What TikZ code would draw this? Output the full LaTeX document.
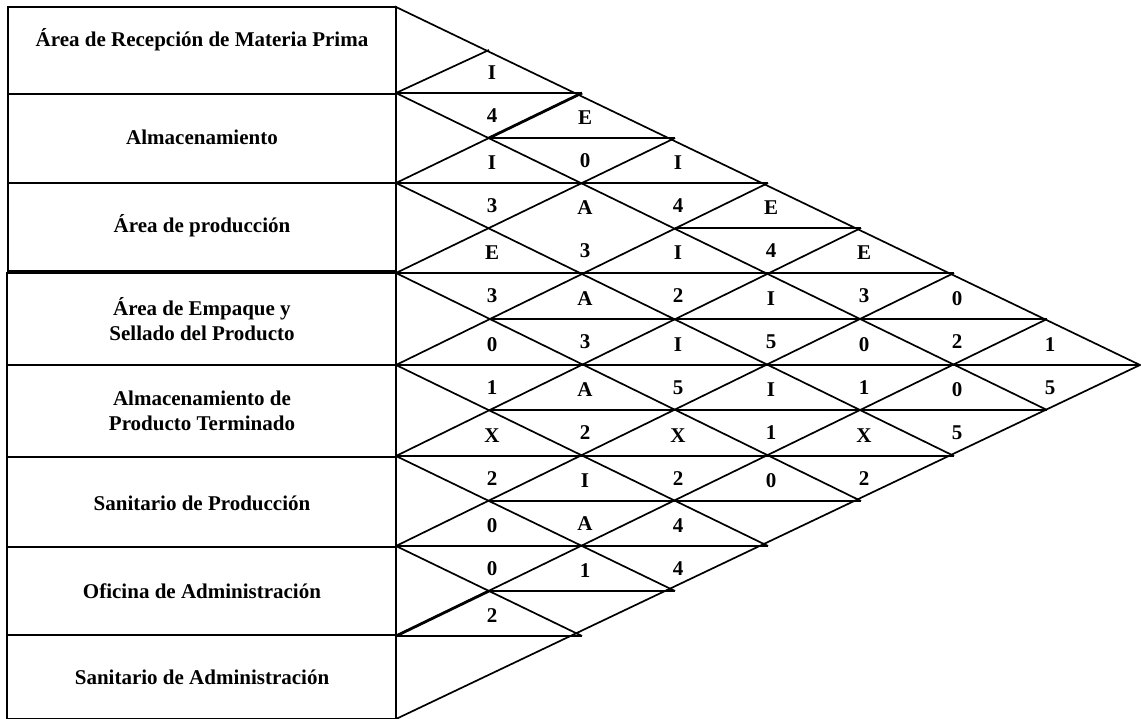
\documentclass[tikz,border=0pt]{standalone}
\usepackage{fontspec}
\setmainfont{Liberation Serif}
\begin{document}
\begin{tikzpicture}[x=1pt,y=-1pt,line width=1.8pt,
  lbl/.style={font=\fontsize{21}{25}\selectfont\bfseries,inner sep=0pt},
  boxt/.style={font=\fontsize{21}{25}\selectfont\bfseries,align=center,inner sep=0pt},
  gridline/.style={line width=1.7pt},
  thickline/.style={line width=2.8pt}]
\useasboundingbox (0,0) rectangle (1141,719);
\def\Ylist{{7,50,93,138,183,228,273,319,365,410,456,501,546,591,636,677,719}}
\foreach \u in {0,...,8}{
  \foreach \v in {0,...,16}{
    \pgfmathsetmacro\yy{\Ylist[\v]}
    \coordinate (g-\u-\v) at ({396+93*\u},\yy);
  }
}
% left boxes
\draw (8,7) rectangle (396,94);
\draw (8,94) rectangle (396,183);
\draw (8,183) rectangle (396,271);
\draw (7,273) rectangle (396,365);
\draw (7,365) rectangle (396,457);
\draw (7,457) rectangle (396,547);
\draw (7,547) rectangle (396,635);
\draw (7,635) rectangle (396,719);
\node[boxt] (b1) at (202,40) {Área de Recepción de Materia Prima};
\node[boxt] (b2) at (202,137) {Almacenamiento};
\node[boxt] (b3) at (202,226) {Área de producción};
\node[boxt] (b4) at (202,319) {Área de Empaque y\\Sellado del Producto};
\node[boxt] (b5) at (202,411) {Almacenamiento de\\Producto Terminado};
\node[boxt] (b6) at (202,503) {Sanitario de Producción};
\node[boxt] (b7) at (202,591) {Oficina de Administración};
\node[boxt] (b8) at (202,677) {Sanitario de Administración};
% envelope
\draw[gridline] (g-0-0) -- (g-8-8) -- (g-0-16) -- cycle;
% down lines
\foreach \k in {1,...,6}{
  \pgfmathtruncatemacro\vs{2*\k}
  \pgfmathtruncatemacro\ue{8-\k}
  \pgfmathtruncatemacro\ve{8+\k}
  \draw[gridline] (g-0-\vs) -- (g-\ue-\ve);
}
% up lines
\foreach \k in {1,...,7}{
  \pgfmathtruncatemacro\vs{2*\k}
  \draw[gridline] (g-0-\vs) -- (g-\k-\k);
}
% horizontal mid lines
\foreach \v/\ul/\ur in {2/0/2,3/1/3,4/0/4,5/3/5,6/0/6,7/1/7,8/0/8,9/1/7,10/0/6,11/1/5,12/0/4,13/1/3,14/0/2}{
  \draw[gridline] (g-\ul-\v) -- (g-\ur-\v);
}
\draw[thickline] (g-1-3) -- (g-2-2);
\draw[thickline] (g-0-14) -- (g-1-13);
% upper labels
\foreach \i/\j/\a in {0/1/I,0/2/E,0/3/I,0/4/E,0/5/E,0/6/0,0/7/1,
  1/2/I,1/3/A,1/4/I,1/5/I,1/6/0,1/7/0,
  2/3/E,2/4/A,2/5/I,2/6/I,2/7/X,
  3/4/0,3/5/A,3/6/X,3/7/0,
  4/5/X,4/6/I,4/7/4,
  5/6/0,5/7/1,6/7/2}{
  \pgfmathtruncatemacro\uu{\j-\i}
  \pgfmathtruncatemacro\vv{\i+\j+1}
  \node[lbl] (up-\i-\j) at ([xshift=3pt,yshift=20pt]g-\uu-\vv) {\a};
}
% lower labels
\foreach \i/\j/\b in {0/1/4,0/2/0,0/3/4,0/4/4,0/5/3,0/6/2,0/7/5,
  1/2/3,1/3/3,1/4/2,1/5/5,1/6/1,1/7/5,
  2/3/3,2/4/3,2/5/5,2/6/1,2/7/2,
  3/4/1,3/5/2,3/6/2,
  4/5/2,4/6/A,4/7/4,
  5/6/0}{
  \pgfmathtruncatemacro\uu{\j-\i}
  \pgfmathtruncatemacro\vv{\i+\j+1}
  \node[lbl] (lo-\i-\j) at ([xshift=3pt,yshift=-23pt]g-\uu-\vv) {\b};
}
\end{tikzpicture}
\end{document}
